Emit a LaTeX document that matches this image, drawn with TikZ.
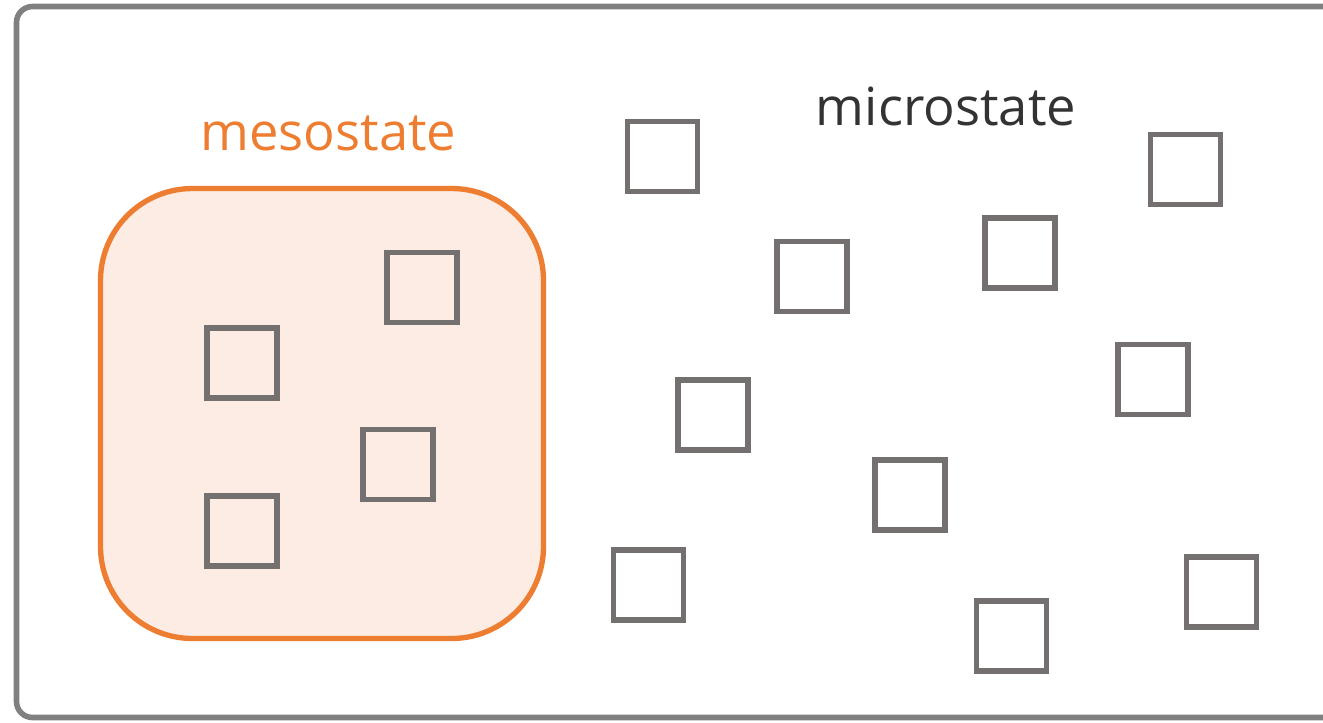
\documentclass[tikz,border=0pt]{standalone}
\usepackage{fontspec}
\setmainfont{Open Sans}
\definecolor{frameGray}{HTML}{808080}
\definecolor{boxGray}{HTML}{757070}
\definecolor{mesoOrange}{HTML}{ED7D31}
\definecolor{mesoFill}{RGB}{253,236,228}
\definecolor{textDark}{HTML}{333333}
\begin{document}
\begin{tikzpicture}[x=0.75pt,y=-0.75pt,
  statebox/.style={draw=boxGray,line width=4pt,minimum width=52.5pt,minimum height=52.5pt,inner sep=0pt,fill=none},
  label/.style={inner sep=0pt,anchor=base,font=\fontsize{39.4pt}{40pt}\selectfont}]
\useasboundingbox (0,0) rectangle (1323,722);
\clip (0,0) rectangle (1323,722);
\draw[frameGray,line width=4.2pt,rounded corners=12pt] (16.5,6.5) rectangle (1340,717.5);
\node[draw=mesoOrange,fill=mesoFill,line width=4pt,rounded corners=69pt,minimum width=332.25pt,minimum height=337.5pt,inner sep=0pt] (meso) at (322,413.5) {};
\node[label,text=mesoOrange] (mesolabel) at (328.5,150) {mesostate};
\node[label,text=textDark] (microlabel) at (946,125) {microstate};
\foreach \n/\x/\y in {a/662.5/156.5, b/1185.5/169.5, c/1020/253, d/812/276.5, e/422/287.5, f/242/363, g/1153/379.5, h/713/415, i/398/464.5, j/910/495, k/242/531, l/648.5/585, m/1221.5/592, n/1011.5/636}
  \node[statebox] (s\n) at (\x,\y) {};
\end{tikzpicture}
\end{document}
